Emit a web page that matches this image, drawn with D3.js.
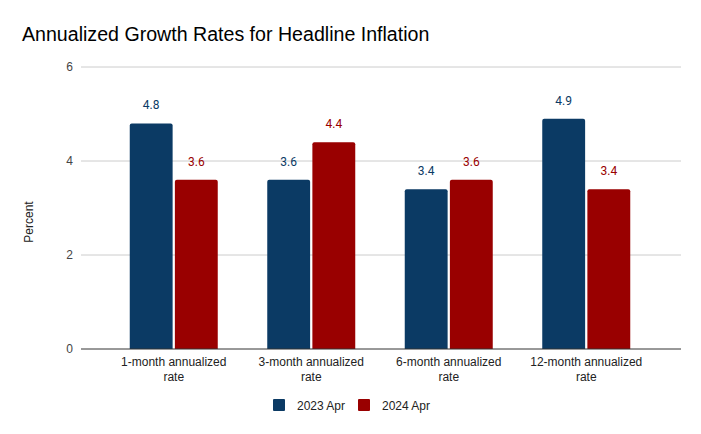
<!DOCTYPE html>
<html>
<head>
<meta charset="utf-8">
<script src="https://cdn.jsdelivr.net/npm/d3@7.9.0/dist/d3.min.js"></script>
<style>
  body { margin: 0; background: #fff; }
  svg { font-family: "Liberation Sans", Arial, sans-serif; }
</style>
</head>
<body>
<svg id="chart" width="701" height="434"></svg>
<script>
const categories = [
  ['1-month annualized', 'rate'],
  ['3-month annualized', 'rate'],
  ['6-month annualized', 'rate'],
  ['12-month annualized', 'rate']
];
const seriesNames = ['2023 Apr', '2024 Apr'];
const apr2023 = [4.8, 3.6, 3.4, 4.9];
const apr2024 = [3.6, 4.4, 3.6, 3.4];
const yTicks = [0, 2, 4, 6];
const colors = ['#0b3a64', '#990000'];

const svg = d3.select('#chart');
const catKeys = categories.map((c) => c.join(' '));

let x0 = d3.scaleBand()
  .domain(catKeys)
  .range([105, 655])
  .paddingInner(0.36)
  .paddingOuter(0.18);

let x1 = d3.scaleBand()
  .domain(seriesNames)
  .range([0, x0.bandwidth()])
  .paddingInner(0.05);

let y = d3.scaleLinear()
  .domain([0, 6])
  .range([349, 67]);

// title
svg.append('text')
  .attr('x', 22)
  .attr('y', 41)
  .attr('font-size', 19.6)
  .attr('fill', '#000')
  .text('Annualized Growth Rates for Headline Inflation');

// gridlines
svg.append('g')
  .selectAll('line')
  .data(yTicks.filter((t) => t !== 0))
  .join('line')
  .attr('x1', 81)
  .attr('x2', 681)
  .attr('y1', (d) => y(d))
  .attr('y2', (d) => y(d))
  .attr('stroke', '#cccccc')
  .attr('stroke-width', 1);

// y tick labels
svg.append('g')
  .selectAll('text')
  .data(yTicks)
  .join('text')
  .attr('x', 73)
  .attr('y', (d) => y(d) + 4)
  .attr('text-anchor', 'end')
  .attr('font-size', 12)
  .attr('fill', '#444')
  .text((d) => d);

// y axis title
svg.append('text')
  .attr('transform', 'translate(33,222) rotate(-90)')
  .attr('text-anchor', 'middle')
  .attr('font-size', 12)
  .attr('fill', '#222')
  .text('Percent');

const series = [apr2023, apr2024];
const data = [];
catKeys.forEach((c, i) => {
  seriesNames.forEach((s, j) => {
    data.push({ cat: c, name: s, value: series[j][i], color: colors[j] });
  });
});

// bars with slightly rounded tops
function barPath(d) {
  const bx = x0(d.cat) + x1(d.name);
  const w = x1.bandwidth();
  const top = y(d.value);
  const bottom = y(0);
  const r = 2;
  return `M${bx},${bottom}V${top + r}Q${bx},${top} ${bx + r},${top}H${bx + w - r}Q${bx + w},${top} ${bx + w},${top + r}V${bottom}Z`;
}

svg.append('g')
  .selectAll('path')
  .data(data)
  .join('path')
  .attr('d', barPath)
  .attr('fill', (d) => d.color);

// value labels
svg.append('g')
  .selectAll('text')
  .data(data)
  .join('text')
  .attr('x', (d) => x0(d.cat) + x1(d.name) + x1.bandwidth() / 2)
  .attr('y', (d) => y(d.value) - 14)
  .attr('text-anchor', 'middle')
  .attr('font-size', 12)
  .attr('font-family', 'Roboto, sans-serif')
  .attr('fill', (d) => d.color)
  .text((d) => d.value.toFixed(1));

// baseline
svg.append('line')
  .attr('x1', 81)
  .attr('x2', 681)
  .attr('y1', y(0))
  .attr('y2', y(0))
  .attr('stroke', '#333')
  .attr('stroke-width', 1);

// x labels
const xl = svg.append('g')
  .selectAll('text')
  .data(categories)
  .join('text')
  .attr('text-anchor', 'middle')
  .attr('font-size', 12)
  .attr('fill', '#222');
xl.each(function (d, i) {
  const cx = x0(catKeys[i]) + x0.bandwidth() / 2;
  d.forEach((line, k) => {
    d3.select(this).append('tspan')
      .attr('x', cx)
      .attr('y', 366 + k * 15)
      .text(line);
  });
});

// legend
const legendX = [273, 358];
const lg = svg.append('g')
  .selectAll('g')
  .data(seriesNames)
  .join('g')
  .attr('transform', (d, i) => `translate(${legendX[i]},399)`);
lg.append('rect')
  .attr('width', 12)
  .attr('height', 12)
  .attr('rx', 1)
  .attr('fill', (d, i) => colors[i]);
lg.append('text')
  .attr('x', 24)
  .attr('y', 10.5)
  .attr('font-size', 12)
  .attr('fill', '#222')
  .text((d) => d);
</script>
</body>
</html>
